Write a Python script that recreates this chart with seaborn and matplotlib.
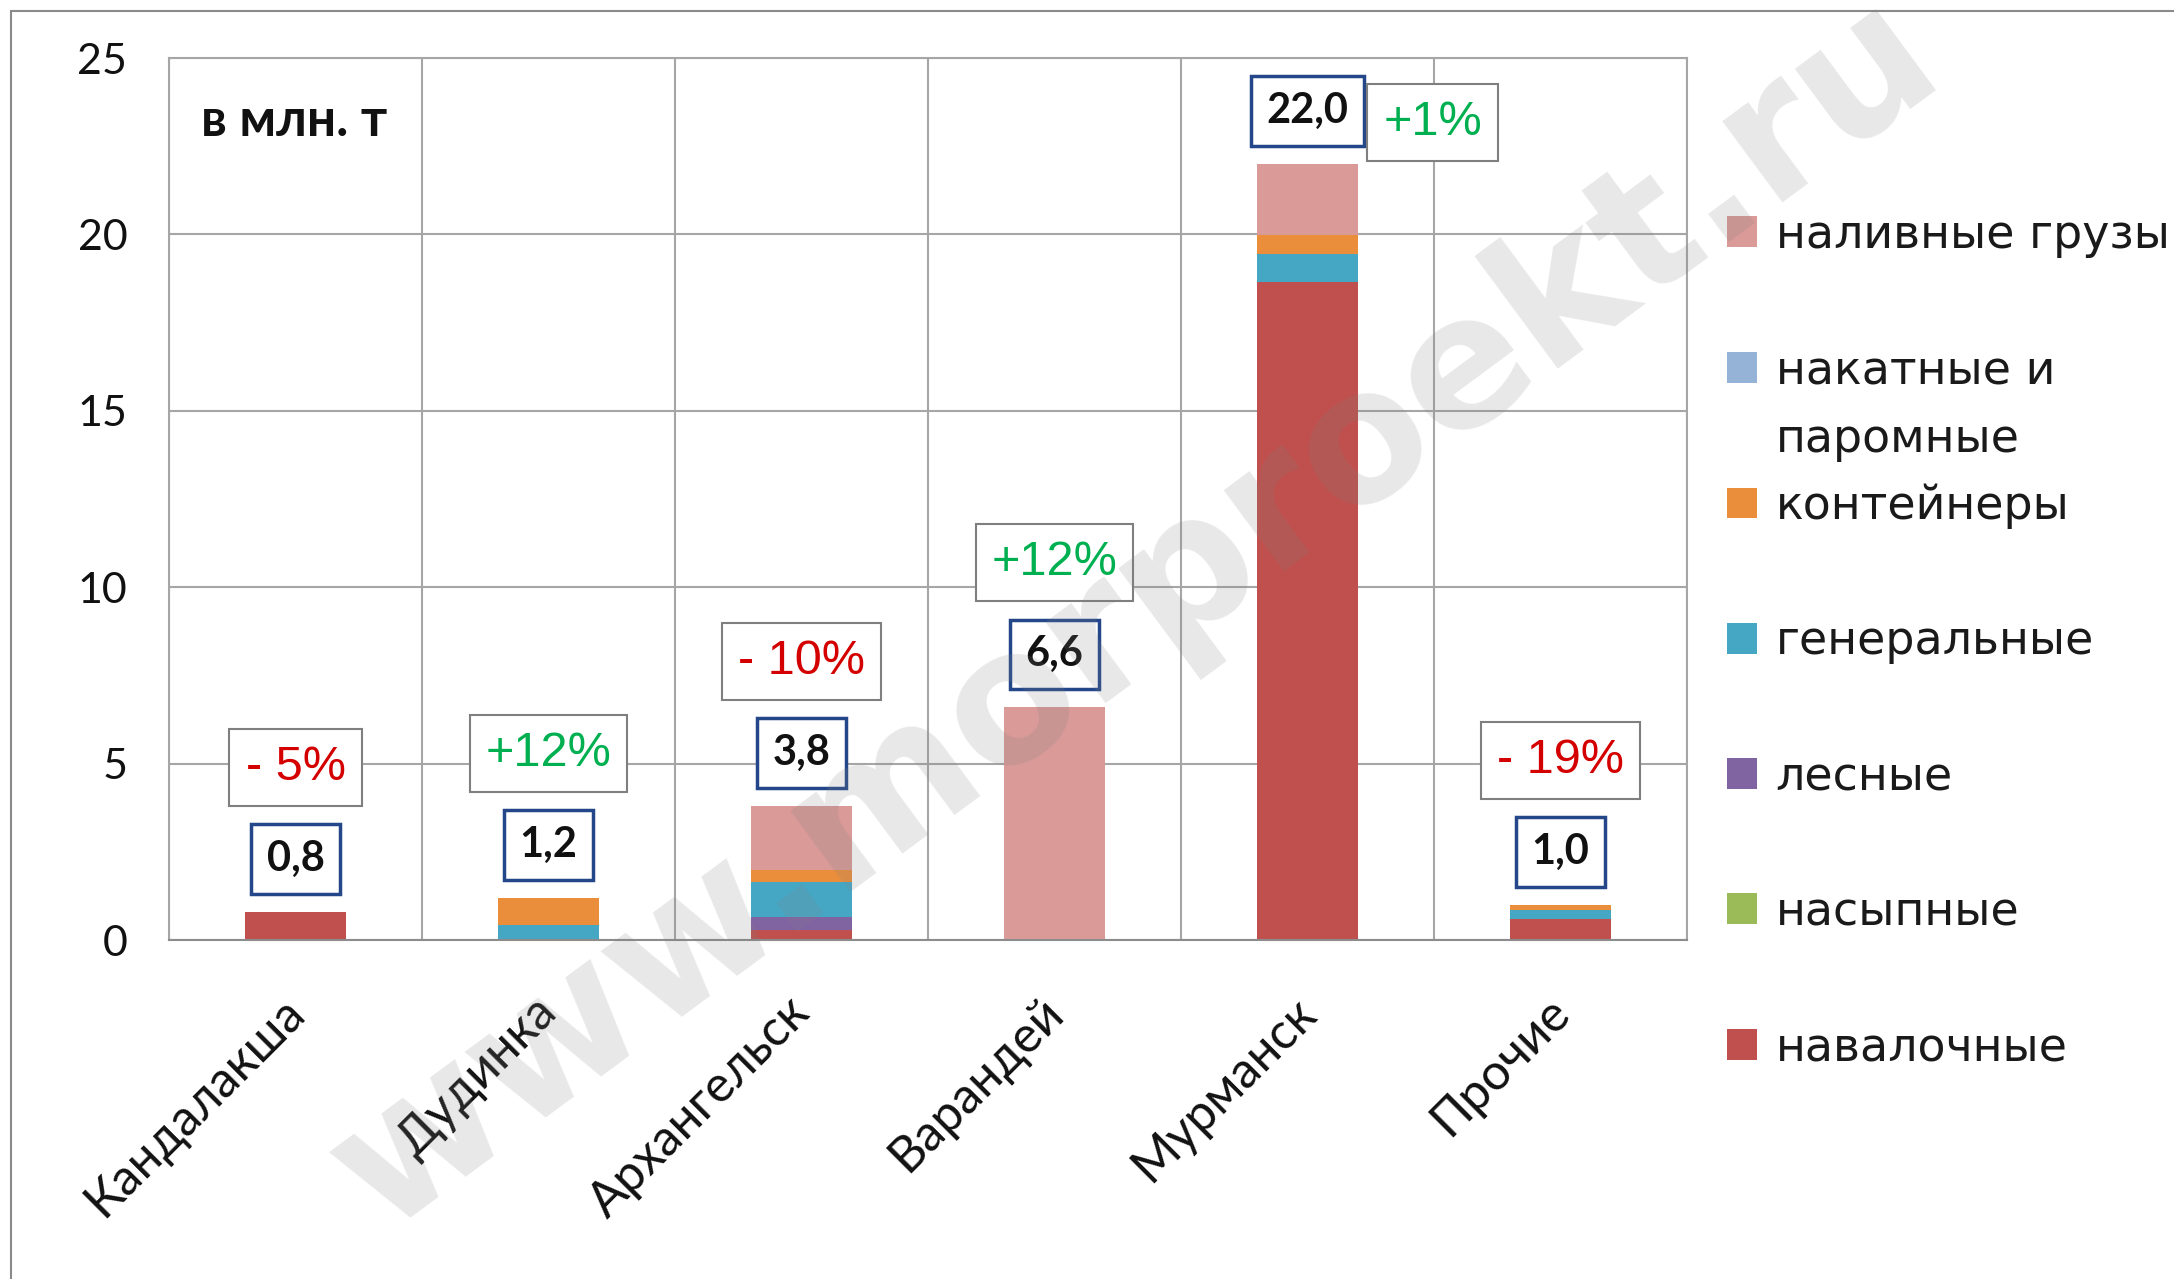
import numpy as np
import matplotlib
matplotlib.use("Agg")
import matplotlib.pyplot as plt
import seaborn as sns
from matplotlib.patches import Patch, Rectangle
from matplotlib.transforms import ScaledTranslation

# ---------------- data ----------------
ports = ["Кандалакша", "Дудинка", "Архангельск", "Варандей", "Мурманск", "Прочие"]
# stacked from bottom to top
cargo_types = ["навалочные", "насыпные", "лесные", "генеральные",
               "контейнеры", "накатные и паромные", "наливные грузы"]
navalochnye = [0.80, 0.00, 0.28, 0.00, 18.65, 0.60]
nasypnye    = [0.00, 0.00, 0.00, 0.00, 0.00, 0.00]
lesnye      = [0.00, 0.00, 0.38, 0.00, 0.00, 0.00]
generalnye  = [0.00, 0.42, 0.99, 0.00, 0.80, 0.25]
konteynery  = [0.00, 0.78, 0.33, 0.00, 0.54, 0.15]
nakatnye    = [0.00, 0.00, 0.00, 0.00, 0.00, 0.00]
nalivnye    = [0.00, 0.00, 1.82, 6.60, 2.01, 0.00]
change_pct  = ["- 5%", "+12%", "- 10%", "+12%", "+1%", "- 19%"]
y_ticks     = [0, 5, 10, 15, 20, 25]

series = [navalochnye, nasypnye, lesnye, generalnye, konteynery, nakatnye, nalivnye]
colors = ["#BF504D", "#9BBB59", "#8064A2", "#45A7C4", "#EB8E3C", "#95B3D7", "#D99A98"]

# ---------------- style ----------------
sns.set_style("white")
NUM_FONT = ["Lato", "Open Sans", "DejaVu Sans"]
plt.rcParams["font.family"] = NUM_FONT

W, H = 2174, 1279
fig = plt.figure(figsize=(W / 100, H / 100), dpi=100)
ax = fig.add_axes([169 / W, 1 - 940 / H, (1687 - 169) / W, (940 - 58) / H])

cum = np.zeros(len(ports))
for name, vals, col in zip(cargo_types, series, colors):
    sns.barplot(x=ports, y=vals, bottom=cum.copy(), color=col, width=0.4,
                saturation=1, errorbar=None, ax=ax, linewidth=0, zorder=2)
    cum += np.array(vals)

grid_col = "#a6a6a6"
ax.set_xlim(-0.5, len(ports) - 0.5)
ax.set_ylim(0, 25)
ax.set_yticks(y_ticks)
ax.set_xticks(range(len(ports)))
ax.set_xticklabels(ports, rotation=45, ha="right", va="top", rotation_mode="anchor")
ax.set_xticks(np.arange(-0.5, len(ports), 1), minor=True)
ax.grid(axis="y", which="major", color=grid_col, lw=1.5)
ax.grid(axis="x", which="minor", color=grid_col, lw=1.5)
ax.grid(axis="x", which="major", visible=False)
ax.set_axisbelow(True)
ax.tick_params(axis="x", which="major", length=0, pad=35, labelsize=36, labelcolor="#111111")
ax.tick_params(axis="x", which="minor", length=12, width=1.5, color=grid_col)
ax.tick_params(axis="y", length=12, width=1.5, color=grid_col, pad=18, labelsize=31,
               labelcolor="#111111")
shift = ScaledTranslation(-0.15, 0, fig.dpi_scale_trans)
for lab in ax.get_xticklabels():
    lab.set_transform(lab.get_transform() + shift)
for s in ax.spines.values():
    s.set_color(grid_col)
    s.set_linewidth(1.5)
ax.spines["bottom"].set_color("#8c8c8c")
ax.set_xlabel("")
ax.set_ylabel("")

ax.text(0.021, 0.928, "в млн. т", transform=ax.transAxes, fontsize=37,
        fontweight="bold", va="center", ha="left", color="#111111")

# ---------------- annotations ----------------
for i, (tot, pct) in enumerate(zip(cum, change_pct)):
    lbl = f"{tot:.1f}".replace(".", ",")
    ax.annotate(lbl, (i, tot), xytext=(0, 38), textcoords="offset points",
                ha="center", va="center", fontsize=30, fontweight="bold", color="#111111",
                bbox=dict(boxstyle="square,pad=0.38", fc="white", ec="#24478A", lw=2.5),
                zorder=5)
    pcol = "#D40000" if pct.startswith("-") else "#00B050"
    if tot > 0.8 * 25:
        off = (90, 30)
    else:
        off = (0, 104)
    ax.annotate(pct, (i, tot), xytext=off, textcoords="offset points",
                ha="center", va="center", fontsize=35, color=pcol,
                family=["Liberation Sans", "DejaVu Sans"],
                bbox=dict(boxstyle="square,pad=0.33", fc="white", ec="#7f7f7f", lw=1.5),
                zorder=5)

# ---------------- legend ----------------
leg_labels = [t.split(" и ")[0] + " и" if " и " in t else t for t in cargo_types][::-1]
handles = [Patch(facecolor=c, edgecolor="none") for c in colors[::-1]]
LEG_FS = 33
leg = fig.legend(handles, leg_labels, loc="upper left",
                 bbox_to_anchor=(1727 / W, 1 - 213 / H), frameon=False,
                 prop={"family": "DejaVu Sans", "size": LEG_FS},
                 handlelength=0.66, handleheight=0.66, handletextpad=0.4,
                 labelspacing=1.97, borderpad=0, borderaxespad=0)
for t in leg.get_texts():
    t.set_color("#1a1a1a")

fig.canvas.draw()
for t, full in zip(leg.get_texts(), cargo_types[::-1]):
    if " и " in full:
        bb = t.get_window_extent()
        fig.text(bb.x0 / W, (bb.y0 - 69) / H, full.split(" и ")[1],
                 fontsize=LEG_FS, family="DejaVu Sans", color="#1a1a1a",
                 ha="left", va="bottom")

# outer frame
fig.patches.append(Rectangle((11 / W, -0.5), 2, 1.5 - 11 / H, transform=fig.transFigure,
                             fill=False, ec="#8a8a8a", lw=1.5))

# watermark
fig.text(0.522, 0.52, "www.morproekt.ru", rotation=36.5, fontsize=132, fontweight="bold",
         family="DejaVu Sans", color="gray", alpha=0.18, ha="center", va="center",
         zorder=10)

fig.savefig("out.png", dpi=100)
